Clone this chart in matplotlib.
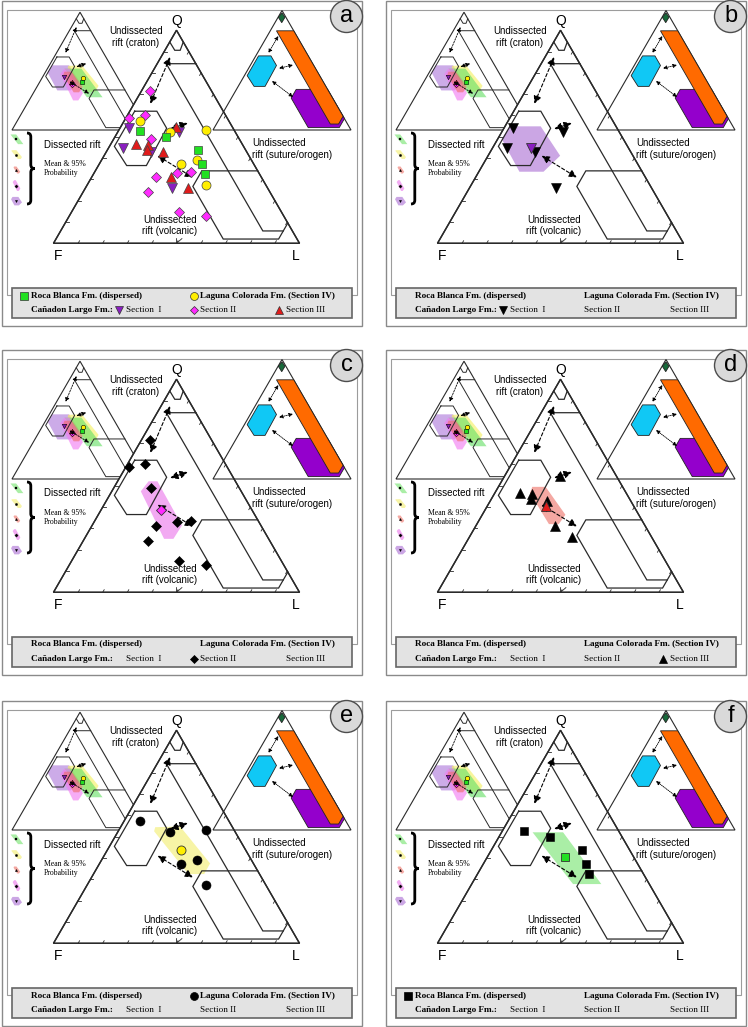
import numpy as np
import matplotlib.pyplot as plt
from matplotlib.patches import Polygon, Rectangle, Circle, FancyArrowPatch, PathPatch
from matplotlib.path import Path

plt.rcParams['font.family'] = ['Liberation Sans', 'DejaVu Sans']
SERIF = ['Liberation Serif', 'DejaVu Serif']

# ---------------- data: Q, F, L fractions ----------------
# Roca Blanca Fm. (dispersed)
rb_q = [0.529, 0.500, 0.438, 0.372, 0.323]
rb_f = [0.382, 0.294, 0.194, 0.209, 0.224]
rb_l = [0.089, 0.206, 0.368, 0.419, 0.453]
# Laguna Colorada Fm. (Section IV)
lc_q = [0.576, 0.522, 0.532, 0.372, 0.392, 0.274]
lc_f = [0.361, 0.266, 0.113, 0.295, 0.219, 0.245]
lc_l = [0.063, 0.212, 0.355, 0.333, 0.389, 0.481]
# Cañadon Largo Fm. - Section I
s1_q = [0.540, 0.447, 0.430, 0.524, 0.261]
s1_f = [0.425, 0.494, 0.389, 0.226, 0.387]
s1_l = [0.035, 0.058, 0.181, 0.250, 0.352]
# Section II
s2_q = [0.716, 0.587, 0.602, 0.488, 0.336, 0.329, 0.310, 0.242, 0.148, 0.128]
s2_f = [0.249, 0.398, 0.326, 0.360, 0.273, 0.334, 0.429, 0.493, 0.414, 0.315]
s2_l = [0.035, 0.015, 0.072, 0.152, 0.390, 0.337, 0.261, 0.265, 0.438, 0.557]
# Section III
s3_q = [0.466, 0.462, 0.438, 0.430, 0.545, 0.313, 0.258]
s3_f = [0.431, 0.383, 0.401, 0.340, 0.229, 0.366, 0.326]
s3_l = [0.103, 0.155, 0.161, 0.230, 0.226, 0.321, 0.416]

# means (Q, F, L)
rb_mean = (0.407, 0.279, 0.314)
lc_mean = (0.438, 0.262, 0.300)
s1_mean = (0.446, 0.398, 0.156)
s2_mean = (0.388, 0.368, 0.244)
s3_mean = (0.407, 0.357, 0.236)

# 95% probability regions (Q, F, L)
rb_region = [(0.521, 0.353, 0.126), (0.521, 0.229, 0.250), (0.278, 0.195, 0.527), (0.278, 0.310, 0.412)]
lc_region = [(0.545, 0.314, 0.141), (0.548, 0.211, 0.241), (0.375, 0.176, 0.449),
             (0.325, 0.225, 0.450), (0.325, 0.289, 0.386), (0.526, 0.328, 0.146)]
s1_region = [(0.549, 0.433, 0.018), (0.549, 0.306, 0.145), (0.411, 0.296, 0.293),
             (0.336, 0.401, 0.263), (0.336, 0.499, 0.165), (0.490, 0.494, 0.016)]
s2_region = [(0.474, 0.408, 0.118), (0.521, 0.353, 0.126), (0.521, 0.317, 0.162),
             (0.314, 0.321, 0.365), (0.251, 0.387, 0.362), (0.251, 0.425, 0.324)]
s3_region = [(0.495, 0.367, 0.138), (0.495, 0.313, 0.192), (0.364, 0.298, 0.338),
             (0.320, 0.347, 0.333), (0.320, 0.387, 0.293), (0.466, 0.391, 0.143)]

# provenance field boundaries (Q, F, L)
field_top = [(0.945, 0.055, 0.0), (0.906, 0.054, 0.040), (0.906, 0.032, 0.062), (0.945, 0.0, 0.055)]
field_craton = [(0.843, 0.0, 0.157), (0.843, 0.12, 0.037), (0.058, 0.12, 0.822), (0.058, 0.037, 0.905)]
field_dissected = [(0.62, 0.36, 0.02), (0.62, 0.27, 0.11), (0.54, 0.27, 0.19),
                   (0.365, 0.44, 0.195), (0.365, 0.52, 0.115), (0.455, 0.525, 0.02)]
field_lower = [(0.34, 0.0, 0.66), (0.34, 0.227, 0.433), (0.267, 0.30, 0.433),
               (0.02, 0.30, 0.68), (0.02, 0.075, 0.905), (0.095, 0.0, 0.905)]
field_orange = [(0.83, 0.125, 0.045), (0.83, 0.0, 0.17), (0.115, 0.0, 0.885),
                (0.05, 0.065, 0.885), (0.05, 0.125, 0.825)]
field_apex = [(0.98, 0.01, 0.01), (0.943, 0.007, 0.05), (0.898, 0.053, 0.049), (0.943, 0.055, 0.002)]

arrows_main = [((0.874, 0.089, 0.037), (0.655, 0.279, 0.066)),
               ((0.537, 0.257, 0.206), (0.564, 0.172, 0.264)),
               ((0.411, 0.371, 0.218), (0.309, 0.279, 0.412))]
arrows_right = [((0.787, 0.133, 0.080), (0.644, 0.277, 0.079)),
                ((0.516, 0.264, 0.220), (0.544, 0.148, 0.308)),
                ((0.410, 0.368, 0.222), (0.276, 0.282, 0.442))]

panel_letters = ['a', 'b', 'c', 'd', 'e', 'f']
panel_x = [0, 384, 0, 384, 0, 384]
panel_y = [0, 0, 349, 349, 700, 700]
panel_series = ['all', 's1', 's2', 's3', 'lc', 'rb']

series = {
    'rb': dict(q=rb_q, f=rb_f, l=rb_l, mean=rb_mean, region=rb_region, marker='s', color='#22e022',
               shade='#66e066', fill='#aaeea6', ms=6.0),
    'lc': dict(q=lc_q, f=lc_f, l=lc_l, mean=lc_mean, region=lc_region, marker='o', color='#ffee00',
               shade='#f4f060', fill='#f7f4a6', ms=6.5),
    's1': dict(q=s1_q, f=s1_f, l=s1_l, mean=s1_mean, region=s1_region, marker='v', color='#8a1fc0',
               shade='#ad78da', fill='#cba6e4', ms=6.5),
    's2': dict(q=s2_q, f=s2_f, l=s2_l, mean=s2_mean, region=s2_region, marker='D', color='#ff2bff',
               shade='#f27af2', fill='#f2aaf2', ms=4.8),
    's3': dict(q=s3_q, f=s3_f, l=s3_l, mean=s3_mean, region=s3_region, marker='^', color='#e01b1b',
               shade='#ee6a6a', fill='#f4a8a2', ms=6.5),
}

# triangle geometry (F corner x, base y, side) in panel pixels
MAIN = (53.5, 243.3, 246)
LEFT = (12, 130, 136)
RIGHT = (213, 130, 138)
H = np.sqrt(3) / 2


def tern(tri, q, f, l, ox, oy):
    x0, y0, s = tri
    q = np.asarray(q, float)
    f = np.asarray(f, float)
    l = np.asarray(l, float)
    t = q + f + l
    q, l = q / t, l / t
    return ox + x0 + s * (l + q / 2), oy + y0 - s * H * q


def tpts(tri, pts, ox, oy):
    a = np.array(pts, float)
    x, y = tern(tri, a[:, 0], a[:, 1], a[:, 2], ox, oy)
    return np.column_stack([x, y])


def outline(ax, tri, ox, oy, lw, z, fc=None):
    p = tpts(tri, [(0, 1, 0), (0, 0, 1), (1, 0, 0)], ox, oy)
    ax.add_patch(Polygon(p, closed=True, fill=fc is not None, fc=fc or 'none',
                         ec='#2a2a2a', lw=lw, zorder=z))


def fields(ax, tri, ox, oy, lw, z):
    for pl, closed in [(field_top, False), (field_craton, False), (field_dissected, True), (field_lower, False)]:
        p = tpts(tri, pl, ox, oy)
        if closed:
            p = np.vstack([p, p[:1]])
        ax.plot(p[:, 0], p[:, 1], color='#2a2a2a', lw=lw, zorder=z, solid_joinstyle='miter')


def darrow(ax, tri, a, b, ox, oy, lw, ms, ls, z):
    p0 = tpts(tri, [a], ox, oy)[0]
    p1 = tpts(tri, [b], ox, oy)[0]
    ax.add_patch(FancyArrowPatch(p0, p1, arrowstyle='<|-|>,head_length=0.45,head_width=0.22',
                                 mutation_scale=ms, lw=lw, linestyle=ls, color='k',
                                 shrinkA=0, shrinkB=0, zorder=z))


def ticks(ax, tri, ox, oy, dt, z):
    for t in np.arange(0.1, 0.95, 0.1):
        for a, b in [((0, 1 - t, t), (dt, 1 - t - dt, t)),
                     ((t, 1 - t, 0), (t, 1 - t - dt, dt)),
                     ((t, 0, 1 - t), (t - dt, dt, 1 - t))]:
            p = tpts(tri, [a, b], ox, oy)
            ax.plot(p[:, 0], p[:, 1], color='#2a2a2a', lw=0.6, zorder=z)
    # small "v" mark at the middle of the base
    p = tpts(tri, [(0.022, 0.489, 0.489), (0.0, 0.5, 0.5), (0.022, 0.467, 0.511)], ox, oy)
    ax.plot(p[:, 0], p[:, 1], color='#2a2a2a', lw=0.6, zorder=z)


def brace(ax, x, y0, y1, w):
    ym = (y0 + y1) / 2
    verts = [(x, y0), (x + w, y0), (x + w, y0 + w), (x + w, ym - w), (x + w, ym), (x + 2 * w, ym),
             (x + w, ym), (x + w, ym + w), (x + w, y1 - w), (x + w, y1), (x, y1)]
    codes = [Path.MOVETO, Path.CURVE3, Path.CURVE3, Path.LINETO, Path.CURVE3, Path.CURVE3,
             Path.CURVE3, Path.CURVE3, Path.LINETO, Path.CURVE3, Path.CURVE3]
    ax.add_patch(PathPatch(Path(verts, codes), fill=False, lw=2.0, ec='k', zorder=11))


def draw_panel(ax, k):
    ox, oy = panel_x[k], panel_y[k]
    which = panel_series[k]

    # frames
    ax.add_patch(Rectangle((ox + 2, oy + 0.5), 360, 325, fill=False, ec='#8a8a8a', lw=1.0, zorder=1))
    ax.add_patch(Rectangle((ox + 7.5, oy + 10), 350, 285, fill=False, ec='#9c9c9c', lw=0.8, zorder=1))

    # ---- left inset: summary of the probability regions
    outline(ax, LEFT, ox, oy, 0.8, 2.5)
    fields(ax, LEFT, ox, oy, 0.7, 2.5)
    for key in ['s1', 'lc', 'rb', 's2', 's3']:
        sd = series[key]
        ax.add_patch(Polygon(tpts(LEFT, sd['region'], ox, oy), closed=True, fc=sd['shade'],
                             ec='none', alpha=0.62, zorder=2))
    for key in ['s1', 'lc', 'rb', 's2', 's3']:
        sd = series[key]
        x, y = tern(LEFT, *sd['mean'], ox, oy)
        ax.plot(x, y, marker=sd['marker'], ms=3.2, mfc=sd['color'], mec='k', mew=0.4, zorder=3)
    for a, b in arrows_main:
        darrow(ax, LEFT, a, b, ox, oy, 0.6, 5.5, (0, (2, 1.5)), 3)

    # ---- main triangle
    outline(ax, MAIN, ox, oy, 1.0, 4, fc='white')
    if which != 'all':
        sd = series[which]
        ax.add_patch(Polygon(tpts(MAIN, sd['region'], ox, oy), closed=True, fc=sd['fill'],
                             ec='none', zorder=5))
    fields(ax, MAIN, ox, oy, 0.9, 6)
    outline(ax, MAIN, ox, oy, 1.0, 6)
    ticks(ax, MAIN, ox, oy, 0.012, 6)
    for a, b in arrows_main:
        darrow(ax, MAIN, a, b, ox, oy, 0.8, 10.5, (0, (3, 2)), 7)

    keys = ['s2', 's1', 's3', 'lc', 'rb'] if which == 'all' else [which]
    for key in keys:
        sd = series[key]
        x, y = tern(MAIN, sd['q'], sd['f'], sd['l'], ox, oy)
        if which == 'all':
            ax.plot(x, y, ls='none', marker=sd['marker'], ms=sd['ms'], mfc=sd['color'],
                    mec='#444444', mew=0.5, zorder=8)
        else:
            ax.plot(x, y, ls='none', marker=sd['marker'], ms=sd['ms'], mfc='k', mec='k',
                    mew=0.4, zorder=8)
            mx, my = tern(MAIN, *sd['mean'], ox, oy)
            ax.plot(mx, my, marker=sd['marker'], ms=sd['ms'], mfc=sd['color'], mec='#333333',
                    mew=0.6, zorder=9)

    # ---- right inset: tectonic fields
    outline(ax, RIGHT, ox, oy, 0.8, 9)
    for pts, col in [(field_lower, '#9400cc'), (field_orange, '#ff6a00'),
                     (field_dissected, '#10c8f5'), (field_apex, '#17693a')]:
        ax.add_patch(Polygon(tpts(RIGHT, pts, ox, oy), closed=True, fc=col, ec='#222222',
                             lw=0.6, zorder=9.5))
    for a, b in arrows_right:
        darrow(ax, RIGHT, a, b, ox, oy, 0.6, 5, (0, (1.2, 1.2)), 10)

    # ---- labels
    ax.text(ox + 177, oy + 21, 'Q', fontsize=10, ha='center', va='center', zorder=11)
    ax.text(ox + 58, oy + 256, 'F', fontsize=10, ha='center', va='center', zorder=11)
    ax.text(ox + 296, oy + 256, 'L', fontsize=10, ha='center', va='center', zorder=11)
    ax.text(ox + 136, oy + 37, 'Undissected\nrift (craton)', fontsize=7, ha='center', va='center',
            linespacing=1.15, zorder=11)
    ax.text(ox + 44, oy + 144.5, 'Dissected rift', fontsize=7, ha='left', va='center', zorder=11)
    ax.text(ox + 44, oy + 168.5, 'Mean & 95%\nProbability', fontsize=5.6, family=SERIF,
            ha='left', va='center', linespacing=1.05, zorder=11)
    ax.text(ox + 252.5, oy + 149, 'Undissected\nrift (suture/orogen)', fontsize=7, ha='left',
            va='center', linespacing=1.15, zorder=11)
    ax.text(ox + 170, oy + 225.5, 'Undissected\nrift (volcanic)', fontsize=7, ha='center',
            va='center', linespacing=1.15, zorder=11)

    # ---- left legend of the probability regions
    brace(ax, ox + 27, oy + 133, oy + 204, 3.8)
    icon_y = [139, 154.5, 170, 185.5, 201]
    for key, iy in zip(['rb', 'lc', 's3', 's2', 's1'], icon_y):
        sd = series[key]
        q, f, l = sd['mean']
        s = 46
        tri = (16.5 - s * (l + q / 2), iy + s * H * q, s)
        ax.add_patch(Polygon(tpts(tri, sd['region'], ox, oy), closed=True, fc=sd['fill'],
                             ec='none', zorder=10))
        mx, my = tern(tri, q, f, l, ox, oy)
        ax.plot(mx, my, marker=sd['marker'], ms=1.7, mfc='k', mec='k', mew=0.2, zorder=10.5)

    # ---- bottom legend
    ax.add_patch(Rectangle((ox + 12, oy + 287.5), 340, 30, fc='#e3e3e3', ec='#666666', lw=1.2, zorder=12))
    r1, r2 = oy + 295.5, oy + 310
    fs = 6.6
    ax.text(ox + 31, r1, 'Roca Blanca Fm. (dispersed)', fontsize=fs, family=SERIF,
            weight='bold', ha='left', va='center', zorder=13)
    ax.text(ox + 200.5, r1, 'Laguna Colorada Fm. (Section IV)', fontsize=fs, family=SERIF,
            weight='bold', ha='left', va='center', zorder=13)
    ax.text(ox + 31, r2, 'Cañadon Largo Fm.:', fontsize=fs, family=SERIF, weight='bold',
            ha='left', va='center', zorder=13)
    ax.text(ox + 126.5, r2, 'Section  I', fontsize=fs, family=SERIF, ha='left', va='center', zorder=13)
    ax.text(ox + 200.5, r2, 'Section II', fontsize=fs, family=SERIF, ha='left', va='center', zorder=13)
    ax.text(ox + 286, r2, 'Section III', fontsize=fs, family=SERIF, ha='left', va='center', zorder=13)
    legend_pos = {'rb': (24, r1), 'lc': (194, r1), 's1': (119.5, r2), 's2': (194, r2), 's3': (279.5, r2)}
    for key in keys:
        sd = series[key]
        lx, ly = legend_pos[key]
        col = sd['color'] if which == 'all' else 'k'
        ax.plot(ox + lx, ly, marker=sd['marker'], ms=sd['ms'] - 0.8, mfc=col,
                mec='#333333' if which == 'all' else 'k', mew=0.5, zorder=13)

    # ---- panel letter
    ax.add_patch(Circle((ox + 346.5, oy + 16.5), 16, fc='#d9d9d9', ec='#4d4d4d', lw=1.0, zorder=14))
    ax.text(ox + 347, oy + 16, panel_letters[k], fontsize=17, ha='center', va='center', zorder=15)


fig = plt.figure(figsize=(7.48, 10.27), dpi=100)
ax = fig.add_axes([0, 0, 1, 1])
ax.set_xlim(0, 748)
ax.set_ylim(1027, 0)
ax.axis('off')

for k in range(6):
    draw_panel(ax, k)

fig.savefig('out.png', dpi=100, facecolor='white')
